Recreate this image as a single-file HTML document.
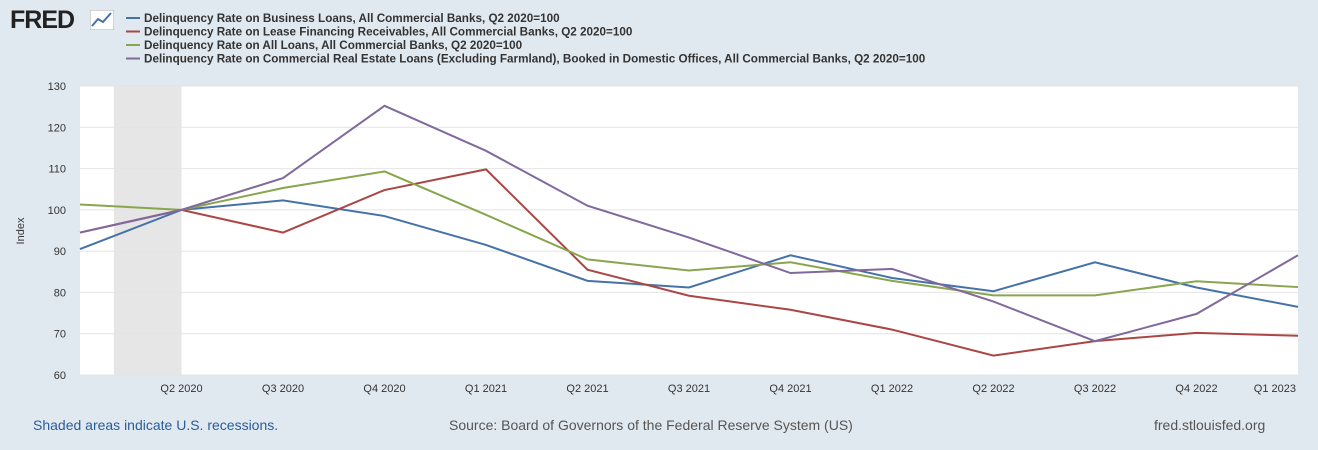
<!DOCTYPE html>
<html><head><meta charset="utf-8"><style>
body{margin:0;width:1318px;height:450px;background:#e1e9f0;font-family:"Liberation Sans",sans-serif;overflow:hidden;position:relative}
.t{position:absolute;white-space:nowrap}
</style></head><body>
<div class="t" style="left:10px;top:6px;font-size:25px;font-weight:bold;color:#222;letter-spacing:-1px">FRED</div>
<svg style="position:absolute;left:90px;top:10px" width="24" height="20"><rect width="24" height="20" fill="#fff" stroke="#aaa"/><polyline points="2,16 8,9 13,12 21,3" fill="none" stroke="#4572a7" stroke-width="2"/></svg>
<svg id="c" width="1318" height="450" style="position:absolute;left:0;top:0"></svg>
<div class="t" style="left:33px;top:417px;font-size:14px;color:#2a5c9a">Shaded areas indicate U.S. recessions.</div>
<div class="t" style="left:449px;top:417px;font-size:14px;color:#555">Source: Board of Governors of the Federal Reserve System (US)</div>
<div class="t" style="left:1154px;top:417px;font-size:14px;color:#555">fred.stlouisfed.org</div>
<script>
const categories=["Q1 2020","Q2 2020","Q3 2020","Q4 2020","Q1 2021","Q2 2021","Q3 2021","Q4 2021","Q1 2022","Q2 2022","Q3 2022","Q4 2022","Q1 2023"];
const business=[90.5,100,102.3,98.5,91.5,82.8,81.2,89,83.5,80.3,87.3,81.2,76.5];
const lease=[94.5,100,94.5,104.8,109.8,85.5,79.2,75.8,71,64.7,68.2,70.2,69.5];
const allLoans=[101.3,100,105.3,109.3,98.8,88,85.3,87.3,82.8,79.3,79.3,82.7,81.3];
const cre=[94.5,100,107.7,125.2,114.3,101,93.3,84.7,85.7,77.8,68.2,74.8,89];
const yTicks=[60,70,80,90,100,110,120,130];
const seriesNames=["Delinquency Rate on Business Loans, All Commercial Banks, Q2 2020=100","Delinquency Rate on Lease Financing Receivables, All Commercial Banks, Q2 2020=100","Delinquency Rate on All Loans, All Commercial Banks, Q2 2020=100","Delinquency Rate on Commercial Real Estate Loans (Excluding Farmland), Booked in Domestic Offices, All Commercial Banks, Q2 2020=100"];
const colors=["#4572a7","#aa4643","#89a54e","#80699b"];
const L=80,R=1298,T=86,B=375;
const x=i=>L+i*(R-L)/(categories.length-1);
const y=v=>B-(v-60)/(130-60)*(B-T);
const s=document.getElementById('c');const NS="http://www.w3.org/2000/svg";
function el(t,a,p){const e=document.createElementNS(NS,t);for(const k in a)e.setAttribute(k,a[k]);(p||s).appendChild(e);return e;}
let e=el('rect',{x:L,y:T,width:R-L,height:B-T,fill:'#fff'});

e=el('rect',{x:x(1)-(x(1)-x(0))*2/3,y:T,width:(x(1)-x(0))*2/3,height:B-T,fill:'#e6e6e6'});

yTicks.forEach(v=>{
 let g=el('line',{x1:L,x2:R,y1:y(v),y2:y(v),stroke:'#e4e4e4'});
 
 let t=el('text',{x:L-14,y:y(v)+4,'text-anchor':'end','font-size':11,fill:'#333'});t.textContent=v;
 
});
categories.forEach((c,i)=>{if(i==0)return;
 let t=el('text',{x:i==categories.length-1?R-2:x(i),y:392,'text-anchor':i==categories.length-1?'end':'middle','font-size':11,fill:'#333'});t.textContent=c;
 
});
e=el('text',{x:24,y:231,transform:'rotate(-90 24 231)','text-anchor':'middle','font-size':11,fill:'#333'});e.textContent='Index';

[business,lease,allLoans,cre].forEach((d,k)=>{
 let p=el('polyline',{points:d.map((v,i)=>x(i)+','+y(v)).join(' '),fill:'none',stroke:colors[k],'stroke-width':2});
 
 let l=el('line',{x1:126,x2:140,y1:18+k*13.5,y2:18+k*13.5,stroke:colors[k],'stroke-width':2});
 
 let t=el('text',{x:144,y:22+k*13.5,'font-size':11.7,'font-weight':'bold',fill:'#333'});t.textContent=seriesNames[k];
 
});
</script>
</body></html>
